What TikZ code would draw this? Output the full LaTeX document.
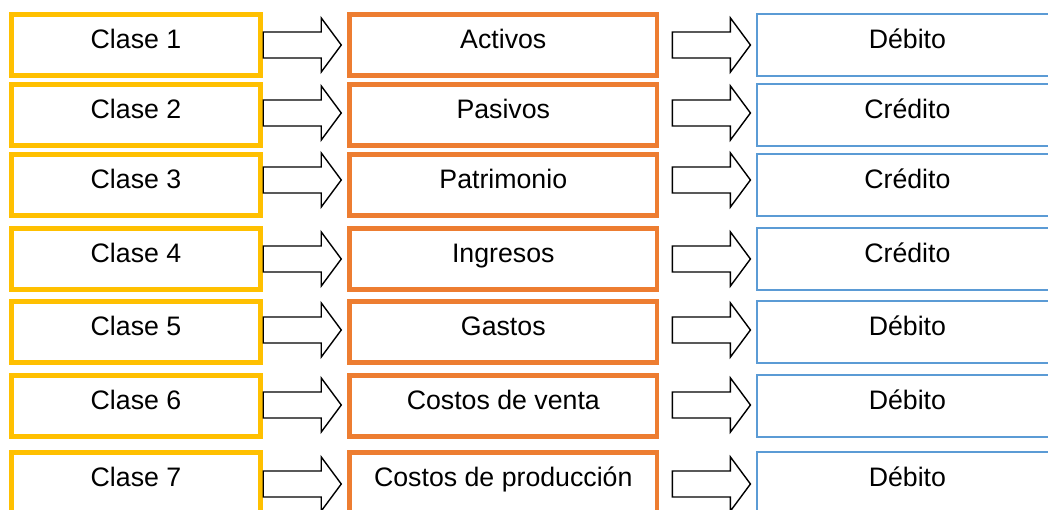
\documentclass[tikz,border=0pt]{standalone}
\usepackage{fontspec}
\setmainfont{Liberation Sans}
\usetikzlibrary{positioning,calc}

\definecolor{amarillo}{HTML}{FFC000}
\definecolor{naranja}{HTML}{ED7D31}
\definecolor{azul}{HTML}{5B9BD5}

\begin{document}
\begin{tikzpicture}[x=0.025cm,y=-0.025cm,on grid,
    every node/.style={font=\fontsize{19}{22}\selectfont,text height=14pt,text depth=9pt,minimum height=1.53cm},
    clase/.style={draw=amarillo,line width=3.4pt,minimum width=6.23cm},
    cuenta/.style={draw=naranja,line width=3.4pt,minimum width=7.68cm},
    saldo/.style={draw=azul,line width=1.3pt,minimum width=7.5cm},
    flecha/.style={draw=black,line width=1pt,fill=white,line join=miter}]
    \clip (0,0) rectangle (1048,510);

    \node[clase] (c1) at (136,45)  {Clase 1};
    \node[clase] (c2) at (136,115) {Clase 2};
    \node[clase] (c3) at (136,185) {Clase 3};
    \node[clase] (c4) at (136,259) {Clase 4};
    \node[clase] (c5) at (136,332) {Clase 5};
    \node[clase] (c6) at (136,406) {Clase 6};
    \node[clase] (c7) at (136,483) {Clase 7};

    \node[cuenta] (k1) [right=9.18cm of c1] {Activos};
    \node[cuenta] (k2) [right=9.18cm of c2] {Pasivos};
    \node[cuenta] (k3) [right=9.18cm of c3] {Patrimonio};
    \node[cuenta] (k4) [right=9.18cm of c4] {Ingresos};
    \node[cuenta] (k5) [right=9.18cm of c5] {Gastos};
    \node[cuenta] (k6) [right=9.18cm of c6] {Costos de venta};
    \node[cuenta] (k7) [right=9.18cm of c7] {Costos de producción};

    \node[saldo] (s1) [right=10.1cm of k1] {Débito};
    \node[saldo] (s2) [right=10.1cm of k2] {Crédito};
    \node[saldo] (s3) [right=10.1cm of k3] {Crédito};
    \node[saldo] (s4) [right=10.1cm of k4] {Crédito};
    \node[saldo] (s5) [right=10.1cm of k5] {Débito};
    \node[saldo] (s6) [right=10.1cm of k6] {Débito};
    \node[saldo] (s7) [right=10.1cm of k7] {Débito};

    % block arrows, drawn back from the tip at the next box
    \foreach \i/\d in {1/0,2/-2,3/-5,4/0,5/-2,6/-1,7/1}{
        \draw[flecha] ($(k\i.west)+(-6,\d)$) -- ++(-20,-27) -- ++(0,14) -- ++(-58,0)
            -- ++(0,26) -- ++(58,0) -- ++(0,14) -- cycle;
        \draw[flecha] ($(s\i.west)+(-6,\d)$) -- ++(-20,-27) -- ++(0,14) -- ++(-58,0)
            -- ++(0,26) -- ++(58,0) -- ++(0,14) -- cycle;
    }
\end{tikzpicture}
\end{document}
